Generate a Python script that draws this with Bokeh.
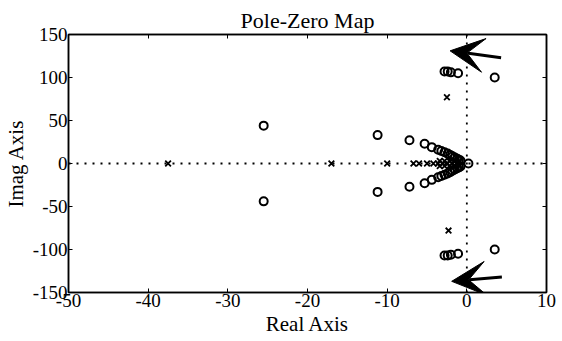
from bokeh.plotting import figure
from bokeh.models import (Range1d, LinearAxis, FixedTicker, Span, Arrow, VeeHead,
                          ColumnDataSource, CustomJSTickFormatter)
from bokeh.embed import file_html
from bokeh.resources import INLINE

# Poles (real, imaginary)
pole_re = [-37.5, -17.0, -10.0, -6.7, -6.0, -5.0, -4.2, -3.6, -3.0, -2.4, -1.8, -1.2,
           -3.4, -2.8, -2.2, -1.6, -1.0,
           -3.4, -2.8, -2.2, -1.6, -1.0,
           -2.5, -2.3]
pole_im = [0, 0, 0, 0, 0, 0, 0, 0, 0, 0, 0, 0,
           3, 3, 3, 3, 3,
           -3, -3, -3, -3, -3,
           77, -78]

# Zeros (conjugate pairs listed by upper half, mirrored below)
zero_re_upper = [-25.5, -11.2, -7.2, -5.3, -4.4, -3.6, -3.2, -2.8, -2.4, -2.1, -1.8,
                 -1.5, -1.2, -1.0, -0.8,
                 -2.8, -2.4, -2.0, -1.1, 3.5]
zero_im_upper = [44, 33, 27, 23, 19, 16, 14.5, 13, 11.5, 10, 8.5,
                 7, 5.5, 4.5, 3.5,
                 107, 107, 106, 105, 100]
zero_re = zero_re_upper + zero_re_upper + [0.2]
zero_im = zero_im_upper + [-v for v in zero_im_upper] + [0]

x_ticks = [-50, -40, -30, -20, -10, 0, 10]
y_ticks = [-150, -100, -50, 0, 50, 100, 150]

# Direction arrows near the top and bottom of the imaginary axis
arrow_tail_re = [4.3, 4.4]
arrow_tail_im = [123, -132]
arrow_tip_re = [-2.1, -1.9]
arrow_tip_im = [131, -137]

FONT = "Liberation Serif"

p = figure(width=562, height=341, output_backend="svg", toolbar_location=None,
           x_range=Range1d(-50, 10), y_range=Range1d(-150, 150),
           min_border_left=68, min_border_right=16, min_border_top=34,
           min_border_bottom=49, title="Pole-Zero Map",
           x_axis_label="Real Axis", y_axis_label="Imag Axis")
p.background_fill_color = "white"
p.border_fill_color = "white"
p.outline_line_color = "black"
p.outline_line_width = 1.5
p.xgrid.visible = False
p.ygrid.visible = False

p.title.align = "center"
p.title.text_font = FONT
p.title.text_font_size = "22px"
p.title.text_font_style = "normal"
p.title.text_color = "black"
p.title.offset = 0
p.title.standoff = 3

# Plain hyphen minus signs on tick labels
plain = CustomJSTickFormatter(code="return tick.toString();")

for ax in (p.xaxis[0], p.yaxis[0]):
    ax.formatter = plain
    ax.axis_line_width = 1.5
    ax.major_tick_in = 4
    ax.major_tick_out = 0
    ax.minor_tick_in = 0
    ax.minor_tick_out = 0
    ax.major_label_text_font = FONT
    ax.major_label_text_font_size = "19px"
    ax.major_label_text_color = "black"
    ax.axis_label_text_font = FONT
    ax.axis_label_text_font_size = "21px"
    ax.axis_label_text_font_style = "normal"
    ax.axis_label_text_color = "black"
    ax.major_label_standoff = 1
    ax.axis_label_standoff = 2

p.xaxis[0].ticker = FixedTicker(ticks=x_ticks)
p.yaxis[0].ticker = FixedTicker(ticks=y_ticks)

# Tick marks on the top and right edges of the box (no labels)
blank = CustomJSTickFormatter(code="return '';")
top = LinearAxis(ticker=FixedTicker(ticks=x_ticks), formatter=blank,
                 major_tick_in=4, major_tick_out=0, minor_tick_in=0, minor_tick_out=0,
                 axis_line_width=1.5, major_label_standoff=0)
right = LinearAxis(ticker=FixedTicker(ticks=y_ticks), formatter=blank,
                   major_tick_in=4, major_tick_out=0, minor_tick_in=0, minor_tick_out=0,
                   axis_line_width=1.5, major_label_standoff=0)
p.add_layout(top, "above")
p.add_layout(right, "right")

# Dotted axes through the origin
p.add_layout(Span(location=0, dimension="width", line_color="black",
                  line_dash="2 6", line_width=1.8))
p.add_layout(Span(location=0, dimension="height", line_color="black",
                  line_dash="2 6", line_width=1.8))

p.scatter(pole_re, pole_im, marker="x", size=8, line_color="black", line_width=1.8)
p.scatter(zero_re, zero_im, marker="circle", size=8, fill_color=None,
          line_color="black", line_width=2)

arrows = ColumnDataSource(dict(x0=arrow_tail_re, y0=arrow_tail_im,
                               x1=arrow_tip_re, y1=arrow_tip_im))
p.add_layout(Arrow(source=arrows, x_start="x0", y_start="y0", x_end="x1", y_end="y1",
                   line_width=3, line_color="black",
                   end=VeeHead(size=34, fill_color="black", line_color="black",
                               line_width=1)))

open("out.html", "w").write(file_html(p, INLINE))
